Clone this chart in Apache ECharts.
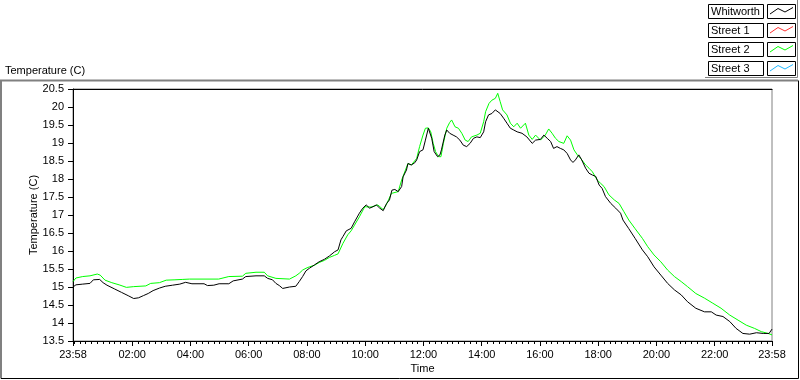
<!DOCTYPE html>
<html>
<head>
<meta charset="utf-8">
<script src="https://cdn.jsdelivr.net/npm/echarts@6/dist/echarts.min.js"></script>
<style>
  html, body { margin: 0; padding: 0; background: #fff; }
  #chart { width: 800px; height: 380px; }
</style>
</head>
<body>
<div id="chart"></div>
<script>
// minutes after 23:58, temperature
var whitworth = [
  [0,15.00],[6,15.06],[20,15.08],[35,15.10],[42,15.20],[55,15.21],[62,15.12],[70,15.05],[85,14.95],[100,14.85],
  [115,14.75],[125,14.68],[135,14.70],[145,14.76],[155,14.82],[165,14.90],[178,14.97],[190,15.02],[205,15.05],[220,15.08],
  [232,15.13],[245,15.09],[270,15.09],[277,15.04],[290,15.05],[301,15.09],[321,15.09],[330,15.17],[349,15.22],[356,15.29],
  [377,15.31],[394,15.31],[401,15.24],[411,15.20],[418,15.10],[425,15.04],[432,14.96],[446,15.00],[459,15.02],[466,15.15],
  [473,15.29],[480,15.45],[487,15.52],[497,15.61],[507,15.70],[518,15.77],[528,15.86],[539,15.98],[546,16.03],[552,16.31],
  [556,16.40],[563,16.56],[573,16.63],[580,16.81],[590,17.05],[597,17.19],[604,17.28],[611,17.19],[618,17.23],[625,17.28],
  [632,17.19],[639,17.12],[646,17.32],[652,17.42],[657,17.69],[663,17.71],[670,17.65],[677,17.79],[680,18.06],[687,18.25],
  [690,18.43],[697,18.39],[704,18.45],[708,18.53],[714,18.76],[721,18.81],[726,19.08],[732,19.41],[735,19.36],[739,19.13],
  [744,18.76],[751,18.62],[756,18.67],[759,18.81],[766,19.22],[770,19.36],[776,19.27],[783,19.22],[790,19.17],[797,19.08],
  [804,18.94],[811,18.90],[818,18.99],[825,19.13],[832,19.17],[839,19.15],[846,19.31],[850,19.59],[856,19.78],[863,19.82],
  [870,19.92],[874,19.94],[880,19.82],[887,19.69],[894,19.55],[901,19.41],[908,19.36],[915,19.31],[925,19.27],[935,19.17],
  [946,18.99],[953,19.08],[963,19.10],[970,19.22],[977,19.13],[984,19.04],[990,18.85],[997,18.90],[1004,18.85],[1011,18.81],
  [1018,18.71],[1025,18.53],[1030,18.46],[1035,18.53],[1042,18.67],[1048,18.53],[1056,18.30],[1063,18.16],[1070,18.11],[1077,18.07],
  [1084,17.83],[1090,17.74],[1097,17.51],[1108,17.32],[1118,17.19],[1128,17.05],[1133,16.86],[1145,16.62],[1158,16.35],[1173,16.03],
  [1184,15.84],[1197,15.56],[1211,15.33],[1225,15.10],[1239,14.92],[1253,14.78],[1266,14.59],[1283,14.41],[1301,14.31],[1315,14.31],
  [1325,14.22],[1339,14.18],[1353,14.04],[1366,13.85],[1380,13.71],[1394,13.69],[1408,13.73],[1422,13.71],[1434,13.71],[1440,13.83]
];
var street1 = [];
var street2 = [
  [0,15.15],[6,15.25],[20,15.29],[35,15.31],[50,15.36],[56,15.33],[66,15.19],[80,15.12],[95,15.06],[110,14.99],
  [125,15.01],[150,15.03],[160,15.10],[178,15.12],[192,15.19],[210,15.20],[225,15.21],[240,15.22],[300,15.22],[321,15.29],
  [349,15.30],[356,15.38],[377,15.41],[394,15.41],[401,15.31],[418,15.24],[446,15.22],[459,15.31],[466,15.38],[473,15.47],
  [480,15.52],[487,15.56],[497,15.60],[507,15.68],[518,15.74],[528,15.82],[539,15.88],[546,15.92],[556,16.21],[566,16.45],
  [573,16.56],[580,16.72],[590,16.95],[601,17.23],[614,17.22],[628,17.28],[639,17.15],[646,17.30],[656,17.60],[670,17.65],
  [677,17.97],[690,18.43],[697,18.39],[708,18.57],[714,18.90],[721,19.22],[726,19.41],[732,19.42],[737,19.31],[742,18.99],
  [747,18.76],[753,18.62],[758,18.62],[763,18.99],[770,19.41],[776,19.57],[780,19.64],[787,19.45],[794,19.41],[801,19.27],
  [808,19.08],[814,19.04],[821,19.17],[832,19.22],[839,19.27],[846,19.59],[850,19.87],[857,20.10],[863,20.19],[870,20.24],
  [875,20.38],[880,20.15],[885,19.92],[894,19.78],[901,19.55],[908,19.45],[915,19.55],[922,19.41],[932,19.55],[939,19.22],
  [946,19.10],[953,19.22],[963,19.08],[973,19.22],[980,19.39],[987,19.27],[994,19.13],[1001,19.04],[1011,18.99],[1018,19.20],
  [1025,19.08],[1032,18.81],[1039,18.67],[1046,18.57],[1056,18.39],[1063,18.30],[1070,18.20],[1080,17.97],[1087,17.88],[1094,17.79],
  [1104,17.56],[1115,17.42],[1125,17.32],[1135,17.09],[1145,16.86],[1158,16.62],[1173,16.35],[1184,16.12],[1197,15.89],[1211,15.70],
  [1225,15.47],[1239,15.29],[1253,15.15],[1266,15.01],[1283,14.82],[1301,14.69],[1318,14.55],[1335,14.41],[1353,14.22],[1370,14.08],
  [1387,13.94],[1404,13.85],[1418,13.76],[1432,13.71],[1440,13.67]
];
var street3 = [];

var seriesNames = ['Whitworth', 'Street 1', 'Street 2', 'Street 3'];
var seriesColors = ['#000000', '#ff3030', '#00ff00', '#20b8ff'];
var seriesData = [whitworth, street1, street2, street3];

var tickValues = [0, 122, 242, 362, 482, 602, 722, 842, 962, 1082, 1202, 1322, 1440];
var tickLabels = ['23:58', '02:00', '04:00', '06:00', '08:00', '10:00', '12:00', '14:00', '16:00', '18:00', '20:00', '22:00', '23:58'];
var minorTicks = [];
for (var m = 2; m < 1440; m += 12) {
  if (tickValues.indexOf(m) < 0) minorTicks.push(m);
}

var font = 'Liberation Sans';
var chart = echarts.init(document.getElementById('chart'));

// legend boxes, LabVIEW style
var legendGraphics = [];
seriesNames.forEach(function (name, i) {
  var y = 4 + i * 19;
  legendGraphics.push({
    type: 'rect', shape: { x: 708.5, y: y + 0.5, width: 55, height: 14 },
    style: { fill: '#fff', stroke: '#000', lineWidth: 1 }
  });
  legendGraphics.push({
    type: 'text', x: 711, y: y + 8,
    style: { text: name, font: '11px ' + font, fill: '#000', verticalAlign: 'middle' }
  });
  legendGraphics.push({
    type: 'rect', shape: { x: 767.5, y: y + 0.5, width: 28, height: 14 },
    style: { fill: '#fff', stroke: '#000', lineWidth: 1 }
  });
  legendGraphics.push({
    type: 'polyline',
    shape: { points: [[770, y + 10], [778, y + 4.5], [785, y + 8], [793, y + 3.5]] },
    style: { stroke: seriesColors[i], lineWidth: 1, fill: null }
  });
});
legendGraphics.push({
  type: 'polyline', shape: { points: [[705, 77.5], [797.5, 77.5], [797.5, 0]] },
  style: { stroke: '#808080', lineWidth: 1, fill: null }
});
// outer frame
legendGraphics.push({
  type: 'polyline', shape: { points: [[1, 378.5], [1, 80.5], [798, 80.5]] },
  style: { stroke: '#808080', lineWidth: 2, fill: null }
});
legendGraphics.push({
  type: 'polyline', shape: { points: [[1, 378.5], [798.5, 378.5], [798.5, 80.5]] },
  style: { stroke: '#000', lineWidth: 1, fill: null }
});

chart.setOption({
  animation: false,
  backgroundColor: '#fff',
  textStyle: { fontFamily: font },
  title: {
    text: 'Temperature (C)', left: 5, top: 65, padding: 0,
    textStyle: { fontSize: 11, fontWeight: 'normal', color: '#000', fontFamily: font }
  },
  graphic: legendGraphics,
  grid: {
    left: 73, top: 89, right: 28, bottom: 39,
    show: true, borderColor: '#808080', borderWidth: 1, backgroundColor: '#fff'
  },
  xAxis: [
    {
      type: 'value', min: 0, max: 1440,
      name: 'Time', nameLocation: 'middle', nameGap: 22, nameMoveOverlap: false,
      nameTextStyle: { fontSize: 11, color: '#000' },
      axisLine: { show: true, lineStyle: { color: '#000', width: 1 } },
      axisTick: { show: true, length: 5, customValues: tickValues, lineStyle: { color: '#000' } },
      axisLabel: {
        customValues: tickValues, margin: 8, fontSize: 11, color: '#000',
        formatter: function (v) { return tickLabels[tickValues.indexOf(v)]; }
      },
      splitLine: { show: false }
    },
    {
      type: 'value', min: 0, max: 1440, position: 'bottom',
      axisLine: { show: false },
      axisTick: { show: true, length: 3, customValues: minorTicks, lineStyle: { color: '#000' } },
      axisLabel: { show: false },
      splitLine: { show: false }
    },
    {
      type: 'value', min: 0, max: 1440, position: 'top',
      axisLine: { show: true, lineStyle: { color: '#000', width: 1 } },
      axisTick: { show: false },
      axisLabel: { show: false },
      splitLine: { show: false }
    }
  ],
  yAxis: {
    type: 'value', min: 13.5, max: 20.5, interval: 0.5,
    name: 'Temperature (C)', nameLocation: 'middle', nameGap: 34, nameRotate: 90,
    nameMoveOverlap: false,
    nameTextStyle: { fontSize: 11, color: '#000' },
    axisLine: { show: true, lineStyle: { color: '#000', width: 1 } },
    axisTick: { show: true, length: 5, lineStyle: { color: '#000' } },
    axisLabel: { margin: 9, fontSize: 11, color: '#000' },
    splitLine: { show: false }
  },
  series: seriesNames.map(function (name, i) {
    return {
      name: name, type: 'line', data: seriesData[i],
      xAxisIndex: 0, yAxisIndex: 0,
      symbol: 'none', z: i === 0 ? 4 : 3,
      lineStyle: { color: seriesColors[i], width: 1 },
      itemStyle: { color: seriesColors[i] }
    };
  })
});
</script>
</body>
</html>
